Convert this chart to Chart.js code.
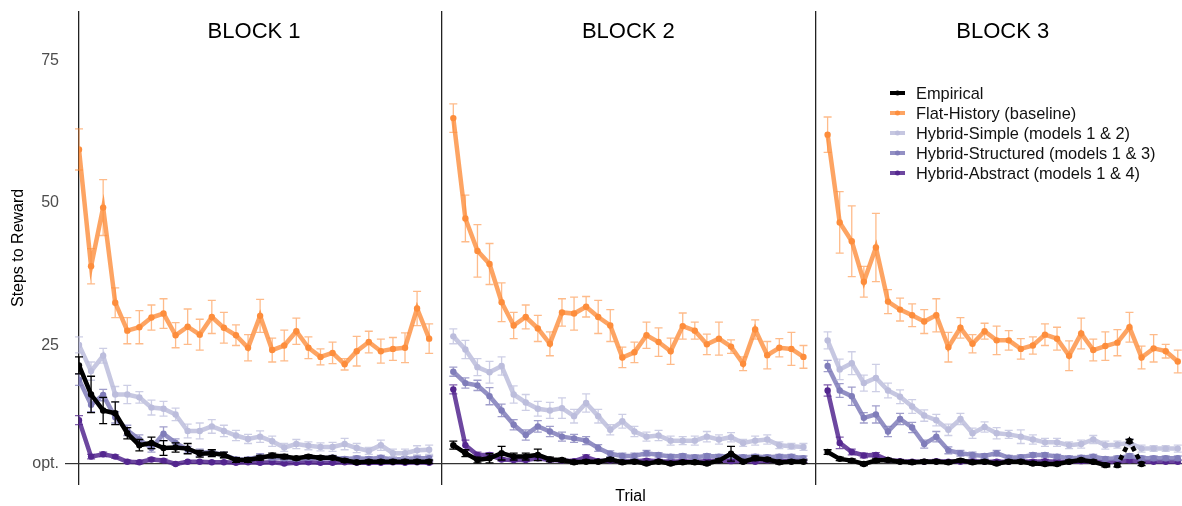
<!DOCTYPE html>
<html>
<head>
<meta charset="utf-8">
<script src="https://cdn.jsdelivr.net/npm/chart.js@4.4.0/dist/chart.umd.min.js"></script>
<style>
  html, body { margin: 0; padding: 0; background: #fff; }
</style>
</head>
<body>
<canvas id="trialChart" width="1182" height="506"></canvas>
<script>
const blockNames = ["BLOCK 1", "BLOCK 2", "BLOCK 3"];
const trialsPerBlock = 30;
const optSteps = 4.2;
const yTicks = [25, 50, 75];

// one inner array per block, 30 trials each
const empiricalMean = [
  [21.5, 16.4, 13.6, 13.1, 9.6, 7.5, 7.9, 7.0, 7.1, 6.9, 6.0, 6.1, 5.8, 4.9, 4.9, 5.3, 5.7, 5.5, 5.2, 5.5, 5.3, 5.3, 4.8, 4.5, 4.6, 4.6, 4.6, 4.6, 4.6, 4.6],
  [7.5, 6.1, 4.9, 5.2, 6.1, 5.5, 5.5, 5.8, 5.0, 4.9, 4.5, 4.6, 4.6, 5.0, 4.5, 4.6, 4.3, 4.6, 4.3, 4.5, 4.5, 4.3, 4.8, 6.0, 4.6, 5.2, 5.0, 4.5, 4.6, 4.6],
  [6.3, 5.1, 4.8, 4.2, 4.8, 4.9, 4.6, 4.5, 4.6, 4.6, 4.5, 4.8, 4.5, 4.6, 4.3, 4.6, 4.6, 4.3, 4.2, 4.2, 4.6, 4.9, 4.6, 4.0, 4.0, 8.2, 4.2, null, null, null]
];
const empiricalErr = [
  [1.5, 3.2, 2.3, 2.0, 1.0, 1.0, 1.0, 1.3, 0.8, 0.9, 0.6, 0.6, 0.5, 0.4, 0.4, 0.4, 0.4, 0.4, 0.3, 0.3, 0.3, 0.3, 0.3, 0.3, 0.3, 0.3, 0.3, 0.3, 0.3, 0.3],
  [0.7, 0.6, 0.5, 0.8, 1.2, 0.6, 0.6, 1.0, 0.4, 0.3, 0.3, 0.3, 0.3, 0.3, 0.3, 0.3, 0.3, 0.3, 0.3, 0.3, 0.3, 0.3, 0.3, 1.3, 0.3, 0.4, 0.3, 0.3, 0.3, 0.3],
  [0.4, 0.3, 0.3, 0.3, 0.3, 0.3, 0.3, 0.3, 0.3, 0.3, 0.3, 0.3, 0.3, 0.3, 0.3, 0.3, 0.3, 0.3, 0.3, 0.3, 0.3, 0.3, 0.3, 0.3, 0.3, 0.3, 0.3, null, null, null]
];

const flatMean = [
  [59.4, 38.9, 49.2, 32.5, 27.6, 28.2, 29.9, 30.6, 26.8, 28.3, 26.9, 30.0, 28.1, 26.8, 24.6, 30.2, 24.2, 25.0, 27.5, 24.6, 23.0, 23.7, 21.7, 24.0, 25.6, 24.0, 24.4, 24.6, 31.5, 26.2],
  [64.9, 47.3, 41.6, 39.3, 32.6, 28.5, 30.0, 28.0, 25.3, 30.8, 30.6, 31.8, 30.0, 28.5, 22.9, 23.8, 26.8, 25.6, 24.0, 28.4, 27.6, 25.2, 26.2, 24.8, 21.8, 27.8, 23.3, 24.6, 24.4, 23.0],
  [62.0, 46.6, 43.3, 36.2, 42.2, 32.7, 31.3, 30.3, 29.2, 30.3, 24.7, 28.1, 25.3, 27.5, 25.9, 25.9, 24.4, 25.0, 26.9, 26.2, 23.2, 27.1, 24.2, 24.9, 25.5, 28.2, 22.9, 24.5, 24.0, 22.2]
];
const flatErr = [
  [3.6, 3.1, 4.9, 2.6, 2.3, 2.9, 2.2, 2.6, 2.2, 3.1, 2.7, 2.9, 2.7, 1.8, 2.3, 2.9, 2.1, 2.7, 2.3, 1.9, 1.4, 1.9, 1.0, 2.6, 1.9, 2.1, 2.0, 2.6, 3.0, 2.6],
  [2.5, 4.1, 4.6, 3.6, 3.4, 2.3, 2.1, 2.3, 2.1, 2.4, 2.9, 1.8, 2.9, 2.8, 1.8, 1.8, 2.3, 2.5, 2.3, 2.3, 1.5, 1.8, 2.9, 1.2, 1.2, 1.7, 2.4, 1.6, 2.9, 2.0],
  [3.1, 5.4, 6.2, 2.7, 6.0, 2.1, 2.0, 2.0, 2.1, 2.9, 2.6, 1.8, 1.6, 1.4, 2.5, 1.7, 1.8, 1.5, 1.9, 2.0, 2.6, 2.7, 1.9, 2.5, 2.3, 2.6, 2.0, 2.4, 1.2, 2.0]
];

const simpleMean = [
  [25.1, 20.5, 23.2, 16.4, 16.4, 15.9, 14.1, 13.9, 12.9, 10.0, 10.0, 10.8, 10.0, 9.2, 8.6, 9.0, 8.2, 7.1, 7.7, 7.4, 7.2, 7.2, 7.7, 7.0, 6.5, 7.5, 6.1, 6.1, 6.6, 6.7],
  [26.6, 24.3, 21.2, 20.3, 21.4, 16.4, 15.0, 13.9, 13.6, 14.0, 12.6, 14.9, 12.6, 10.2, 11.7, 9.9, 9.0, 9.2, 8.3, 8.3, 8.3, 9.0, 8.5, 8.9, 7.9, 8.3, 8.5, 7.5, 7.3, 7.2],
  [25.9, 20.8, 21.9, 18.4, 19.3, 17.1, 16.0, 14.3, 12.7, 11.9, 10.2, 12.1, 9.6, 10.7, 9.6, 9.4, 9.0, 8.5, 8.0, 8.0, 7.5, 7.7, 8.5, 7.5, 7.6, 7.9, 6.9, 6.9, 6.9, 6.9]
];
const simpleErr = [
  [1.4, 1.6, 1.3, 1.4, 1.6, 1.0, 1.3, 1.3, 1.1, 1.2, 1.4, 1.2, 1.0, 0.9, 0.8, 1.0, 0.9, 0.7, 0.8, 0.7, 0.7, 0.8, 1.0, 0.8, 0.6, 0.9, 0.7, 0.7, 0.8, 0.8],
  [1.3, 1.6, 1.5, 1.9, 1.6, 1.5, 1.4, 1.3, 1.4, 1.8, 1.2, 1.6, 1.2, 0.9, 1.2, 0.9, 0.8, 0.9, 0.8, 0.7, 0.8, 0.9, 0.8, 0.8, 0.6, 0.8, 0.8, 0.6, 0.5, 0.6],
  [1.5, 1.8, 2.0, 1.4, 2.4, 1.3, 1.2, 1.2, 1.0, 1.0, 1.0, 1.0, 0.9, 0.9, 1.0, 0.7, 1.2, 0.8, 0.7, 0.7, 0.6, 0.7, 0.7, 0.7, 0.6, 0.7, 0.6, 0.5, 0.5, 0.6]
];

const structuredMean = [
  [19.0, 14.6, 16.3, 12.4, 10.1, 8.5, 7.0, 9.5, 7.9, 6.7, 6.2, 6.2, 5.8, 5.0, 5.0, 5.5, 5.3, 5.2, 5.1, 5.3, 5.2, 5.3, 5.1, 5.2, 5.1, 5.3, 5.0, 5.1, 5.2, 5.2],
  [20.4, 18.4, 18.0, 16.1, 13.6, 11.1, 9.3, 10.8, 9.9, 9.0, 8.7, 8.3, 7.0, 6.0, 5.6, 5.6, 6.1, 5.8, 5.5, 5.6, 5.4, 5.6, 5.5, 5.6, 5.4, 5.5, 5.4, 5.5, 5.5, 5.2],
  [21.4, 17.1, 16.1, 12.3, 12.9, 9.9, 12.1, 10.6, 7.7, 9.0, 6.6, 6.1, 5.8, 5.6, 6.1, 5.3, 5.4, 5.8, 5.8, 5.5, 5.2, 5.3, 5.5, 5.1, 5.2, 5.6, 5.2, 5.2, 5.2, 5.2]
];
const structuredErr = [
  [1.0, 1.2, 1.0, 1.0, 0.9, 0.8, 0.7, 1.2, 0.7, 0.6, 0.6, 0.5, 0.5, 0.4, 0.4, 0.5, 0.4, 0.4, 0.4, 0.4, 0.4, 0.4, 0.4, 0.4, 0.4, 0.4, 0.4, 0.4, 0.4, 0.4],
  [0.8, 0.9, 0.9, 1.5, 1.1, 0.9, 0.9, 1.0, 0.9, 0.8, 0.7, 0.7, 0.6, 0.5, 0.5, 0.5, 0.5, 0.4, 0.4, 0.4, 0.4, 0.4, 0.4, 0.4, 0.4, 0.4, 0.4, 0.4, 0.4, 0.4],
  [1.0, 1.2, 1.6, 0.9, 1.5, 0.9, 1.0, 0.9, 0.7, 0.9, 0.6, 0.5, 0.5, 0.4, 0.5, 0.4, 0.4, 0.4, 0.4, 0.4, 0.4, 0.4, 0.4, 0.4, 0.4, 0.4, 0.4, 0.4, 0.4, 0.4]
];

const abstractMean = [
  [11.9, 5.5, 5.9, 5.5, 4.6, 4.5, 5.0, 4.8, 4.2, 4.6, 4.6, 4.5, 4.5, 4.4, 4.5, 4.4, 4.5, 4.3, 4.4, 4.5, 4.4, 4.4, 4.5, 4.4, 4.4, 4.4, 4.5, 4.4, 4.5, 4.4],
  [17.3, 7.5, 5.8, 5.8, 5.0, 4.9, 4.9, 5.2, 4.9, 4.8, 4.7, 5.4, 4.7, 4.8, 4.6, 4.7, 4.8, 4.7, 4.6, 4.7, 4.6, 4.7, 4.8, 4.7, 4.7, 4.6, 4.8, 4.7, 4.7, 4.8],
  [17.1, 7.9, 6.3, 5.7, 5.8, 4.9, 4.7, 4.6, 4.6, 4.7, 4.6, 4.6, 4.7, 4.6, 4.6, 4.6, 4.7, 4.6, 4.7, 4.6, 4.6, 4.7, 4.6, 4.5, 4.6, 4.8, 4.6, 4.6, 4.6, 4.6]
];
const abstractErr = [
  [0.8, 0.4, 0.4, 0.3, 0.3, 0.3, 0.3, 0.3, 0.2, 0.2, 0.2, 0.2, 0.2, 0.2, 0.2, 0.2, 0.2, 0.2, 0.2, 0.2, 0.2, 0.2, 0.2, 0.2, 0.2, 0.2, 0.2, 0.2, 0.2, 0.2],
  [0.8, 0.9, 0.5, 0.4, 0.3, 0.3, 0.3, 0.3, 0.3, 0.3, 0.3, 0.4, 0.3, 0.3, 0.3, 0.3, 0.3, 0.3, 0.3, 0.3, 0.3, 0.3, 0.3, 0.3, 0.3, 0.3, 0.3, 0.3, 0.3, 0.3],
  [1.0, 1.0, 0.5, 0.4, 0.4, 0.3, 0.3, 0.3, 0.3, 0.3, 0.3, 0.3, 0.3, 0.3, 0.3, 0.3, 0.3, 0.3, 0.3, 0.3, 0.3, 0.3, 0.3, 0.3, 0.3, 0.3, 0.3, 0.3, 0.3, 0.3]
];

const FONT = "'Liberation Sans', Arial, Helvetica, sans-serif";

// blocks sit on one trial axis, one empty slot between them for the divider
function blockStart(b) { return b * (trialsPerBlock + 1); }

function toPoints(blocks) {
  const pts = [];
  blocks.forEach((vals, b) => {
    if (b > 0) pts.push({ x: blockStart(b) - 1, y: null });
    vals.forEach((v, i) => pts.push({ x: blockStart(b) + i, y: v }));
  });
  return pts;
}
function flatErrs(blocks) {
  const out = [];
  blocks.forEach((vals, b) => {
    if (b > 0) out.push(null);
    vals.forEach(v => out.push(v));
  });
  return out;
}

function rgba(hex, a) {
  const n = parseInt(hex.slice(1), 16);
  return `rgba(${n >> 16},${(n >> 8) & 255},${n & 255},${a})`;
}

function series(label, mean, err, color, lineAlpha, barAlpha) {
  return {
    label: label,
    data: toPoints(mean),
    errors: flatErrs(err),
    baseColor: color,
    barColor: rgba(color, barAlpha),
    borderColor: rgba(color, lineAlpha),
    backgroundColor: color,
    pointBackgroundColor: color,
    pointBorderWidth: 0,
    pointRadius: 3.2,
    borderWidth: 4.5,
    tension: 0,
    spanGaps: false
  };
}

const empirical = series("Empirical", empiricalMean, empiricalErr, "#000000", 1, 1);
// late block-3 trials are drawn dashed in the figure
empirical.segment = {
  borderDash: c => (c.p0.parsed.x >= blockStart(2) + 23 ? [5, 4] : undefined)
};

const datasets = [
  empirical,
  series("Flat-History (baseline)", flatMean, flatErr, "#fd8d3c", 0.8, 0.6),
  series("Hybrid-Simple (models 1 & 2)", simpleMean, simpleErr, "#bcbddc", 0.85, 0.75),
  series("Hybrid-Structured (models 1 & 3)", structuredMean, structuredErr, "#807dba", 0.85, 0.75),
  series("Hybrid-Abstract (models 1 & 4)", abstractMean, abstractErr, "#54278f", 0.85, 0.75)
];

const errorBars = {
  id: "errorBars",
  afterDatasetDraw(chart, args) {
    const ds = chart.data.datasets[args.index];
    const y = chart.scales.y;
    const ctx = chart.ctx;
    ctx.save();
    ctx.strokeStyle = ds.barColor;
    ctx.lineWidth = 1.3;
    args.meta.data.forEach((pt, i) => {
      const d = ds.data[i];
      const e = ds.errors[i];
      if (d.y == null || e == null) return;
      const top = y.getPixelForValue(d.y + e);
      const bot = y.getPixelForValue(d.y - e);
      ctx.beginPath();
      ctx.moveTo(pt.x, top); ctx.lineTo(pt.x, bot);
      ctx.moveTo(pt.x - 4, top); ctx.lineTo(pt.x + 4, top);
      ctx.moveTo(pt.x - 4, bot); ctx.lineTo(pt.x + 4, bot);
      ctx.stroke();
    });
    ctx.restore();
  }
};

const blockTitles = {
  id: "blockTitles",
  afterDraw(chart) {
    const ctx = chart.ctx;
    const x = chart.scales.x;
    ctx.save();
    ctx.font = "22px " + FONT;
    ctx.fillStyle = "#000";
    ctx.textAlign = "center";
    ctx.textBaseline = "middle";
    blockNames.forEach((name, b) => {
      const cx = x.getPixelForValue(blockStart(b) + (trialsPerBlock - 1) / 2);
      ctx.fillText(name, cx, 32);
    });
    ctx.restore();
  }
};

const legendBox = {
  id: "legendBox",
  afterDraw(chart) {
    const ctx = chart.ctx;
    ctx.save();
    ctx.font = "16.4px " + FONT;
    ctx.textBaseline = "middle";
    chart.data.datasets.forEach((ds, i) => {
      const ly = 93 + i * 20;
      ctx.strokeStyle = ds.borderColor;
      ctx.lineWidth = 4;
      ctx.beginPath(); ctx.moveTo(890, ly); ctx.lineTo(905, ly); ctx.stroke();
      ctx.fillStyle = ds.baseColor;
      ctx.beginPath(); ctx.arc(897.5, ly, 2.5, 0, Math.PI * 2); ctx.fill();
      ctx.fillStyle = "#111";
      ctx.fillText(ds.label, 916, ly + 1);
    });
    ctx.restore();
  }
};

const ctx = document.getElementById("trialChart").getContext("2d");
const chart = new Chart(ctx, {
  type: "line",
  data: { datasets: datasets },
  plugins: [errorBars, blockTitles, legendBox],
  options: {
    responsive: false,
    animation: false,
    layout: { autoPadding: false, padding: { top: 11, right: 0, left: 0, bottom: 0 } },
    plugins: { legend: { display: false }, tooltip: { enabled: false } },
    scales: {
      x: {
        type: "linear",
        min: 0,
        max: 91.35,
        afterBuildTicks: s => {
          s.ticks = blockNames.map((n, b) => ({ value: b === 0 ? 0 : blockStart(b) - 1 }));
        },
        afterFit: s => { s.paddingLeft = 0; s.paddingRight = 0; },
        ticks: { display: false },
        grid: { color: "#222", lineWidth: 1.3, drawTicks: false },
        border: { display: false },
        title: { display: true, text: "Trial", color: "#000", font: { family: FONT, size: 16 }, padding: { top: 2, bottom: 0 } }
      },
      y: {
        type: "linear",
        min: 0.55,
        max: 83.7,
        afterBuildTicks: s => {
          s.ticks = [optSteps].concat(yTicks).map(v => ({ value: v }));
        },
        afterFit: s => { s.width = 79; s.paddingTop = 0; s.paddingBottom = 0; },
        ticks: {
          callback: v => (v === optSteps ? "opt." : v),
          color: "#4d4d4d",
          font: { family: FONT, size: 16 },
          padding: 6
        },
        grid: {
          color: c => (c.tick && c.tick.value === optSteps ? "#333" : "rgba(0,0,0,0)"),
          lineWidth: 1.2,
          tickLength: 14
        },
        border: { display: false },
        title: { display: true, text: "Steps to Reward", color: "#000", font: { family: FONT, size: 16 }, padding: { top: 9, bottom: 0 } }
      }
    }
  }
});
</script>
</body>
</html>
